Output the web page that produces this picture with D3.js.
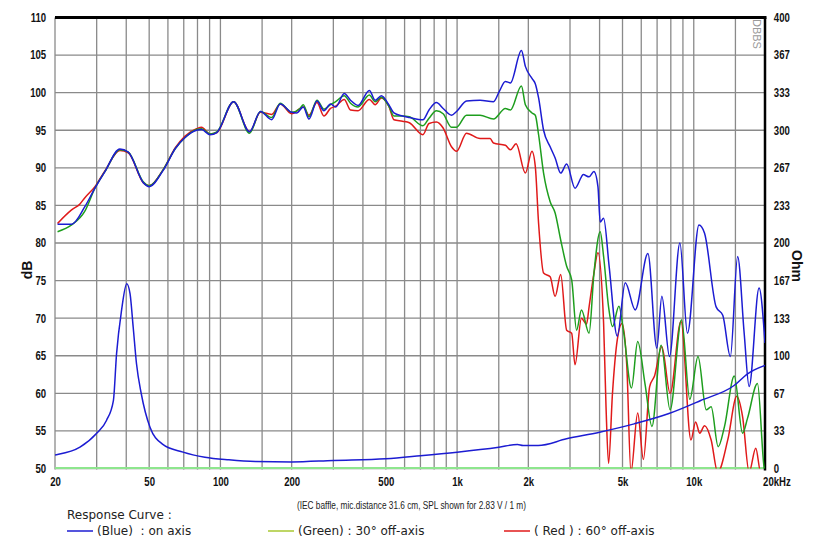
<!DOCTYPE html>
<html>
<head>
<meta charset="utf-8">
<script src="https://cdn.jsdelivr.net/npm/d3@7"></script>
<style>
  body { margin: 0; background: #fff; }
  svg { display: block; }
  .tick-label { font-family: "Liberation Sans", Arial, sans-serif; font-weight: bold; font-size: 12px; fill: #111; }
  .legend { font-family: "DejaVu Sans", Verdana, sans-serif; font-size: 12px; fill: #222; }
</style>
</head>
<body>
<div class="chart"></div>
<script>
// 频率刻度
var gridFreqs = [20,30,40,50,60,70,80,90,100,150,200,300,400,500,600,700,800,900,1000,1500,2000,3000,4000,5000,6000,7000,8000,9000,10000,15000,20000];
var labelFreqs = [20,50,100,200,500,1000,2000,5000,10000,20000];
var labelFreqText = ["20","50","100","200","500","1k","2k","5k","10k","20kHz"];
var dbTicks = [50,55,60,65,70,75,80,85,90,95,100,105,110];
var ohmTickText = ["0","33","67","100","133","167","200","233","267","300","333","367","400"];

// 蓝色 on axis
var blueFreq = [20.5,23.5,26.7,29.5,32.5,37.6,40.8,47.3,50,57.4,64.6,70.7,79.3,83.2,90.4,96.6,113.7,132.8,147.6,164.7,178.9,199.9,209.8,224,236.6,255.9,273.7,291.8,307,333.6,354.5,381.5,425.9,450.6,478.5,514.7,540.9,587.6,628.5,717,761,818,873,947,995,1096,1250,1425,1510,1599,1680,1870,1943,2072,2140,2210,2320,2473,2596,2740,2904,3150,3353,3408,3612,3787,3937,4024,4160,4390,4751,5135,5659,6400,6984,7330,7897,8738,9406,10520,11109,12431,13262,14279,15328,16332,17138,18880,20000];
var blueDb = [82.5,82.5,84.8,87.3,89.5,92.5,92.1,88.0,87.5,89.7,92.6,94.0,95.0,95.1,94.4,94.7,98.8,94.8,97.5,96.4,98.5,97.4,97.3,98.1,96.5,98.9,97.6,98.5,98.1,99.9,99.0,98.3,100.3,99.0,99.6,98.4,97.3,96.9,96.7,96.4,97.7,98.7,97.9,97.0,97.5,98.9,99.0,98.8,100.2,101.5,101.3,105.6,103.5,101.9,101.2,99.3,95.0,92.8,91.3,89.3,90.5,87.3,88.8,89.1,88.8,89.5,87.5,82.8,83.3,76.9,67.6,74.7,71.1,78.6,66.0,72.9,64.9,80.0,68.0,82.4,81.3,71.5,70.4,64.9,78.2,68.0,60.9,74.0,66.7];

// 绿色 30°
var greenFreq = [20.5,23.5,26.7,29.5,32.5,37.6,40.8,47.3,50,57.4,64.6,70.7,79.3,83.2,90.4,96.6,113.7,132.8,147.6,164.7,178.9,199.9,217,224,236.6,255.9,273.7,291.8,307,333.6,354.5,381.5,425.9,450.6,478.5,514.7,540.9,587.6,628.5,717,761,818,873,947,995,1096,1250,1425,1599,1680,1870,1943,2072,2140,2210,2320,2473,2596,2740,2904,3049,3198,3353,3612,3787,4024,4160,4366,4535,4826,5061,5455,5796,6228,6659,7281,7944,8880,9621,10425,11290,11845,12680,13490,14830,16080,16880,18590,19800,20000];
var greenDb = [81.5,82.4,84.2,87.3,89.5,92.4,92.1,88.1,87.6,89.8,92.6,94.0,95.1,95.2,94.5,94.8,98.8,94.6,97.5,96.7,98.6,97.4,97.9,98.4,96.8,99.0,97.8,98.4,98.8,99.6,98.6,98.1,99.7,98.8,99.4,98.2,96.9,96.9,96.8,95.6,96.6,97.6,97.2,95.4,95.4,97.0,97.0,96.5,97.9,97.7,100.9,98.4,97.3,97.0,94.4,89.3,85.5,84.0,80.4,76.9,75.1,68.4,71.1,68.0,76.0,81.5,78.2,71.5,68.9,71.6,68.0,60.7,66.9,61.2,55.6,66.4,57.8,69.8,59.2,64.9,57.8,58.2,52.9,55.6,62.3,54.7,56.7,61.3,50.3,49.5];

// 红色 60°
var redFreq = [20.5,23.5,25.5,26.7,29.5,32.5,37.6,40.8,47.3,50,57.4,64.6,70.7,79.3,83.2,90.4,96.6,113.7,132.8,147.6,164.7,178.9,199.9,224,236.6,255.9,273.7,291.8,307,333.6,354.5,381.5,425.9,450.6,478.5,514.7,540.9,587.6,628.5,717,761,818,873,947,995,1096,1250,1379,1425,1599,1680,1775,1943,2072,2140,2210,2320,2473,2596,2740,2904,3049,3150,3353,3521,3612,3787,3937,4160,4259,4366,4535,4751,4978,5214,5428,5796,6127,6511,6827,7330,7944,8830,9733,10180,10600,11110,11845,12620,13920,15200,16080,17140,18280,19180,20000];
var redDb = [82.6,84.4,85.2,86.0,87.5,89.6,92.3,92.0,88.0,87.6,89.8,92.7,94.2,95.2,95.4,94.5,94.7,98.8,94.8,97.4,97.1,98.5,97.2,98.1,97.0,98.7,96.9,97.9,98.2,99.1,97.7,97.6,99.1,98.4,99.3,98.2,96.4,96.2,96.0,94.4,95.9,96.1,95.3,92.8,92.2,94.6,93.9,93.9,93.3,93.0,92.4,93.2,89.3,92.2,90.2,82.6,76.0,75.5,72.9,75.8,68.4,68.0,63.8,70.0,69.2,71.5,76.0,78.7,69.3,58.2,50.7,60.0,67.1,69.3,63.6,49.5,57.4,51.2,60.9,62.3,66.2,60.0,69.6,53.8,56.2,54.7,55.7,53.8,49.5,53.8,59.6,56.9,49.5,52.7,49.5,49.5];

// 阻抗曲线（右轴）
var impFreq = [20,20.5,25.5,30,33,35.3,36.4,38.2,40.2,41.5,42.8,44.2,46.3,50.4,56.7,69.5,86,108.5,140.7,200,300,500,700,1000,1500,1800,1900,2200,2900,4000,5600,7800,10700,14800,16880,20000];
var impOhm = [12.0,12.4,18.9,31.2,42.6,60.3,101.7,140,163.8,155,125.3,92.9,66.3,36.6,21.9,14.5,10.0,7.7,6.2,5.8,7.1,8.6,11.3,14.5,18.9,21.3,20.4,20.4,26.3,32.2,39.6,48.5,60.3,73.6,84,91.4];

drawChart();

function drawChart(){
    var W = 825, H = 550;
    var pL = 55, pR = 765, pT = 17.5, pB = 468.5;
    var narrow = "scale(0.8,1)";

    var svg = d3.select(".chart").append("svg").attr("width", W).attr("height", H);

    var x = d3.scaleLog().domain([20, 20000]).range([pL, pR]);
    var yDb = d3.scaleLinear().domain([50, 110]).range([pB, pT]);
    var yOhm = d3.scaleLinear().domain([0, 400]).range([pB, pT]);

    // 网格
    svg.append("g").selectAll("line").data(gridFreqs).enter().append("line")
        .attr("x1", d => x(d)).attr("x2", d => x(d))
        .attr("y1", pT).attr("y2", pB + 1)
        .attr("stroke", "#8a8a8a").attr("stroke-width", 1.3);
    svg.append("g").selectAll("line").data(dbTicks).enter().append("line")
        .attr("x1", pL).attr("x2", pR)
        .attr("y1", d => yDb(d)).attr("y2", d => yDb(d))
        .attr("stroke", "#8a8a8a").attr("stroke-width", 1.3);

    // 底部浅绿线
    svg.append("line")
        .attr("x1", pL).attr("x2", pR)
        .attr("y1", yDb(50) - 0.5).attr("y2", yDb(50) - 0.5)
        .attr("stroke", "#8ee68e").attr("stroke-width", 2);

    // 外框线
    svg.append("line").attr("x1", pL).attr("x2", pR + 1.5).attr("y1", pT).attr("y2", pT)
        .attr("stroke", "#000").attr("stroke-width", 3);
    svg.append("line").attr("x1", pR).attr("x2", pR).attr("y1", pT).attr("y2", pB + 2)
        .attr("stroke", "#000").attr("stroke-width", 2.5);

    // 坐标轴文字
    var axB = svg.append("g").attr("transform", "translate(0," + pB + ")")
        .call(d3.axisBottom(x).tickValues(labelFreqs).tickSize(0).tickPadding(9)
            .tickFormat((d, i) => labelFreqText[i]));
    axB.select(".domain").remove();
    axB.selectAll("text").attr("class", "tick-label").attr("fill", null).attr("transform", narrow);
    axB.selectAll("text").filter((d, i) => i == labelFreqs.length - 1)
        .attr("text-anchor", "start").attr("x", -3);

    var axL = svg.append("g").attr("transform", "translate(" + pL + ",0)")
        .call(d3.axisLeft(yDb).tickValues(dbTicks).tickSize(0).tickPadding(11));
    axL.select(".domain").remove();
    axL.selectAll("text").attr("class", "tick-label").attr("fill", null).attr("transform", narrow);

    var axR = svg.append("g").attr("transform", "translate(" + pR + ",0)")
        .call(d3.axisRight(yOhm).tickValues(ohmTickText.map((t, i) => i * 400 / 12)).tickSize(0).tickPadding(11)
            .tickFormat((d, i) => ohmTickText[i]));
    axR.select(".domain").remove();
    axR.selectAll("text").attr("class", "tick-label").attr("fill", null).attr("transform", narrow);

    svg.append("text").attr("class", "tick-label").style("font-size", "14px")
        .attr("transform", "translate(32,270) rotate(-90)").attr("text-anchor", "middle").text("dB");
    svg.append("text").attr("class", "tick-label").style("font-size", "14px")
        .attr("transform", "translate(792,266) rotate(90)").attr("text-anchor", "middle").text("Ohm");

    // 右上角水印
    svg.append("text").attr("transform", "translate(753,19) rotate(90)")
        .style("font-family", "Liberation Sans, sans-serif").style("font-size", "11px")
        .attr("fill", "#9a9a9a").text("DBBS");

    // 曲线
    svg.append("clipPath").attr("id", "plot-clip").append("rect")
        .attr("x", pL).attr("y", pT).attr("width", pR - pL).attr("height", pB - pT);
    var plot = svg.append("g").attr("clip-path", "url(#plot-clip)");

    function drawCurve(freqs, vals, yScale, color){
        var line = d3.line().x(d => x(d[0])).y(d => yScale(d[1])).curve(d3.curveMonotoneX);
        plot.append("path")
            .datum(d3.zip(freqs, vals))
            .attr("d", line)
            .attr("fill", "none")
            .attr("stroke", color)
            .attr("stroke-width", 1.5)
            .attr("stroke-linejoin", "round");
    }
    drawCurve(redFreq, redDb, yDb, "#e01a1a");
    drawCurve(greenFreq, greenDb, yDb, "#1e9e1e");
    drawCurve(blueFreq, blueDb, yDb, "#1c1cd2");
    drawCurve(impFreq, impOhm, yOhm, "#1c1cd2");

    // 说明文字
    svg.append("text").attr("x", 297).attr("y", 509)
        .attr("textLength", 229).attr("lengthAdjust", "spacingAndGlyphs")
        .style("font-family", "Liberation Sans, sans-serif")
        .style("font-size", "10.5px").attr("fill", "#222")
        .text("(IEC baffle, mic.distance 31.6 cm, SPL shown for 2.83 V / 1 m)");

    // 图例
    svg.append("text").attr("class", "legend").attr("x", 67).attr("y", 519).text("Response Curve :");
    var legendItems = [
        {x: 67, color: "#1c1cd2", label: "(Blue)  : on axis"},
        {x: 268, color: "#a8c832", label: "(Green) : 30° off-axis"},
        {x: 504, color: "#e01a1a", label: "( Red ) : 60° off-axis"}
    ];
    legendItems.forEach(function(item){
        svg.append("line").attr("x1", item.x).attr("x2", item.x + 26).attr("y1", 531).attr("y2", 531)
            .attr("stroke", item.color).attr("stroke-width", 1.5);
        svg.append("text").attr("class", "legend").attr("x", item.x + 30).attr("y", 535)
            .attr("xml:space", "preserve").style("white-space", "pre").text(item.label);
    });
}
</script>
</body>
</html>
